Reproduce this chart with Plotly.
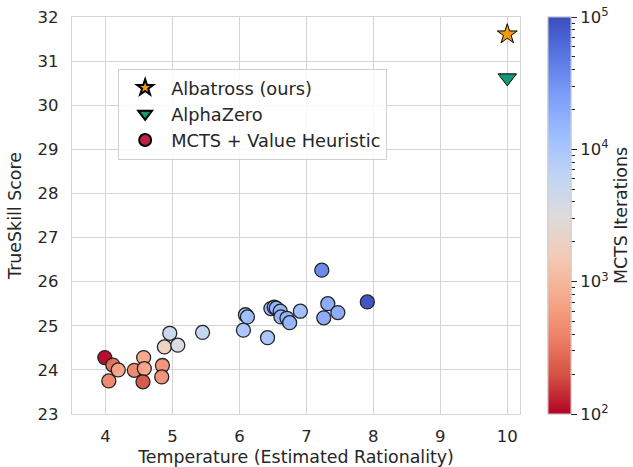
import numpy as np
import plotly.graph_objects as go

# MCTS + value heuristic runs
mcts_temp = [3.99, 4.11, 4.19, 4.05, 4.43, 4.57, 4.58, 4.56, 4.85, 4.84,
             4.88, 4.96, 5.08, 5.45, 6.06, 6.09, 6.12, 6.42, 6.47, 6.52,
             6.55, 6.61, 6.62, 6.71, 6.75, 6.91, 7.32, 7.26, 7.47, 7.23, 7.91]
mcts_score = [24.28, 24.11, 24.00, 23.75, 23.99, 24.28, 24.03, 23.73, 24.10, 23.84,
              24.52, 24.83, 24.56, 24.85, 24.90, 25.25, 25.20, 24.73, 25.39, 25.42,
              25.40, 25.33, 25.20, 25.17, 25.07, 25.33, 25.50, 25.18, 25.30, 26.26, 25.54]
mcts_iters = [100, 300, 700, 400, 400, 700, 700, 200, 500, 500,
              2000, 5000, 3500, 6000, 10000, 12000, 12000, 10000, 15000, 15000,
              15000, 15000, 15000, 15000, 15000, 13000, 20000, 20000, 20000, 40000, 100000]

albatross_temp = [10.0]
albatross_score = [31.61]
alphazero_temp = [10.0]
alphazero_score = [30.62]

x_ticks = [4, 5, 6, 7, 8, 9, 10]
y_ticks = [23, 24, 25, 26, 27, 28, 29, 30, 31, 32]
cbar_major = [2, 3, 4, 5]
cbar_major_text = ["10<sup>2</sup>", "10<sup>3</sup>", "10<sup>4</sup>", "10<sup>5</sup>"]

coolwarm_r = [
    [0.0, "#b40426"], [0.1, "#d65244"], [0.2, "#ee8468"], [0.3, "#f7ac8e"],
    [0.4, "#f2cbb7"], [0.5, "#dddcdc"], [0.6, "#c0d4f5"], [0.7, "#9ebeff"],
    [0.8, "#7b9ff9"], [0.9, "#5977e3"], [1.0, "#3b4cc0"],
]

FONT = "DejaVu Sans"
TXT = "#262626"
GRID = "#d4d4d4"

minor_vals = [float(np.log10(k * 10 ** n)) for n in (2, 3, 4) for k in range(2, 10)]

cb_common = dict(x=1.062, xanchor="left", y=0.5, yanchor="middle", len=1.0, lenmode="fraction",
                 ypad=0, xpad=0, thickness=23, outlinewidth=1, outlinecolor="#cccccc")

fig = go.Figure()

fig.add_trace(go.Scatter(
    x=albatross_temp, y=albatross_score, mode="markers", name="Albatross (ours)",
    marker=dict(symbol="star", size=15, color="#f39c12", line=dict(color="black", width=1)),
))
fig.add_trace(go.Scatter(
    x=alphazero_temp, y=alphazero_score, mode="markers", name="AlphaZero",
    marker=dict(symbol="triangle-down", size=16, color="#0f9b77", line=dict(color="black", width=1)),
))
fig.add_trace(go.Scatter(
    x=[None], y=[None], mode="markers", name="MCTS + Value Heuristic",
    marker=dict(symbol="circle", size=14, color="#c0213f", line=dict(color="black", width=1)),
))
# minor ticks colorbar (underneath)
fig.add_trace(go.Scatter(
    x=[None], y=[None], mode="markers", showlegend=False, hoverinfo="skip",
    marker=dict(color=[2, 5], cmin=2, cmax=5, colorscale=coolwarm_r, showscale=True,
                colorbar=dict(**cb_common, tickmode="array", tickvals=minor_vals,
                              ticks="outside", ticklen=3.5, tickwidth=1, tickcolor=TXT,
                              showticklabels=False)),
))
fig.add_trace(go.Scatter(
    x=mcts_temp, y=mcts_score, mode="markers", showlegend=False,
    marker=dict(symbol="circle", size=14, color=np.log10(mcts_iters), cmin=2, cmax=5,
                colorscale=coolwarm_r, opacity=0.95, line=dict(color="#1a1a1a", width=1.3),
                showscale=True,
                colorbar=dict(**cb_common, tickmode="array", tickvals=cbar_major,
                              ticktext=cbar_major_text,
                              ticks="outside", ticklen=6, tickwidth=1.2, tickcolor=TXT,
                              tickfont=dict(family=FONT, size=16.5, color=TXT),
                              title=dict(text="MCTS Iterations", side="right",
                                         font=dict(family=FONT, size=17.4, color=TXT)))),
))

fig.update_layout(
    width=633, height=467,
    margin=dict(l=72, r=113, t=17, b=53, autoexpand=False),
    paper_bgcolor="white", plot_bgcolor="white",
    font=dict(family=FONT, size=16.5, color=TXT),
    showlegend=True,
    legend=dict(x=0.103, y=0.870, xanchor="left", yanchor="top",
                bgcolor="rgba(255,255,255,0.85)", bordercolor="#d0d0d0", borderwidth=1,
                font=dict(family=FONT, size=17.8, color=TXT), traceorder="normal",
                itemsizing="constant", itemwidth=42),
)
fig.update_xaxes(range=[3.5, 10.19], tickmode="array", tickvals=x_ticks,
                 showgrid=True, gridcolor=GRID, gridwidth=1.2, zeroline=False,
                 showline=True, linecolor=GRID, linewidth=1.2, mirror=True,
                 ticks="", ticklabelstandoff=7, tickfont=dict(family=FONT, size=16.5, color=TXT),
                 title=dict(text="Temperature (Estimated Rationality)", standoff=8,
                            font=dict(family=FONT, size=17.4, color=TXT)))
fig.update_yaxes(range=[23, 32], tickmode="array", tickvals=y_ticks,
                 showgrid=True, gridcolor=GRID, gridwidth=1.2, zeroline=False,
                 showline=True, linecolor=GRID, linewidth=1.2, mirror=True,
                 ticks="", ticklabelstandoff=9, tickfont=dict(family=FONT, size=16.5, color=TXT),
                 title=dict(text="TrueSkill Score", standoff=11,
                            font=dict(family=FONT, size=17.4, color=TXT)))

fig.write_html("out.html", config={"displayModeBar": False},
               post_script="document.body.style.margin='0';document.body.style.overflow='hidden';")
